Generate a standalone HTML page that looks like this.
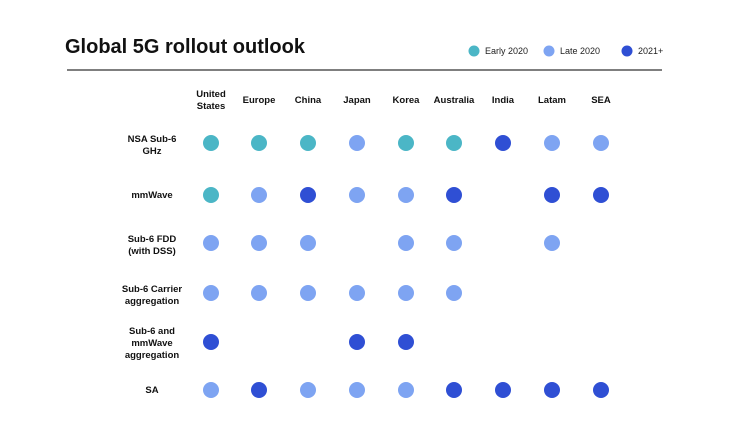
<!DOCTYPE html>
<html><head><meta charset="utf-8"><style>
body{margin:0;background:#fff;width:739px;height:428px;overflow:hidden;font-family:"Liberation Sans",sans-serif;}
</style></head><body>
<svg width="739" height="428" xmlns="http://www.w3.org/2000/svg" font-family="Liberation Sans, sans-serif">
<text x="65" y="53" font-size="20" font-weight="bold" fill="#111">Global 5G rollout outlook</text>
<line x1="67" y1="70" x2="662" y2="70" stroke="#333" stroke-width="1.3"/>
<circle cx="474" cy="51" r="5.5" fill="#4bb6c6"/><text x="485" y="54" font-size="9" fill="#222">Early 2020</text>
<circle cx="549" cy="51" r="5.5" fill="#7ea4f2"/><text x="560" y="54" font-size="9" fill="#222">Late 2020</text>
<circle cx="627" cy="51" r="5.5" fill="#2f4fd4"/><text x="638" y="54" font-size="9" fill="#222">2021+</text>
<g font-size="9.5" font-weight="bold" fill="#111" text-anchor="middle">
<text x="211" y="97">United</text><text x="211" y="109">States</text>
<text x="259" y="103">Europe</text><text x="308" y="103">China</text><text x="357" y="103">Japan</text>
<text x="406" y="103">Korea</text><text x="454" y="103">Australia</text><text x="503" y="103">India</text>
<text x="552" y="103">Latam</text><text x="601" y="103">SEA</text>
<text x="152" y="142">NSA Sub-6</text><text x="152" y="154">GHz</text>
<text x="152" y="198">mmWave</text>
<text x="152" y="242">Sub-6 FDD</text><text x="152" y="254">(with DSS)</text>
<text x="152" y="292">Sub-6 Carrier</text><text x="152" y="304">aggregation</text>
<text x="152" y="334">Sub-6 and</text><text x="152" y="346">mmWave</text><text x="152" y="358">aggregation</text>
<text x="152" y="393">SA</text>
</g>
<g id="d"></g>
<script>
var xs=[211,259,308,357,406,454,503,552,601],ys=[143,195,243,293,342,390];
var rows=["TTTLTTDLL","TLDLLD-DD","LLL-LL-L-","LLLLLL---","D--DD----","LDLLLDDDD"];
var c={T:"#4bb6c6",L:"#7ea4f2",D:"#2f4fd4"};var g=document.getElementById("d");
rows.forEach(function(r,i){for(var j=0;j<9;j++){if(r[j]=="-")continue;var e=document.createElementNS("http://www.w3.org/2000/svg","circle");e.setAttribute("cx",xs[j]);e.setAttribute("cy",ys[i]);e.setAttribute("r",8);e.setAttribute("fill",c[r[j]]);g.appendChild(e);}});
</script>
</svg>
</body></html>
